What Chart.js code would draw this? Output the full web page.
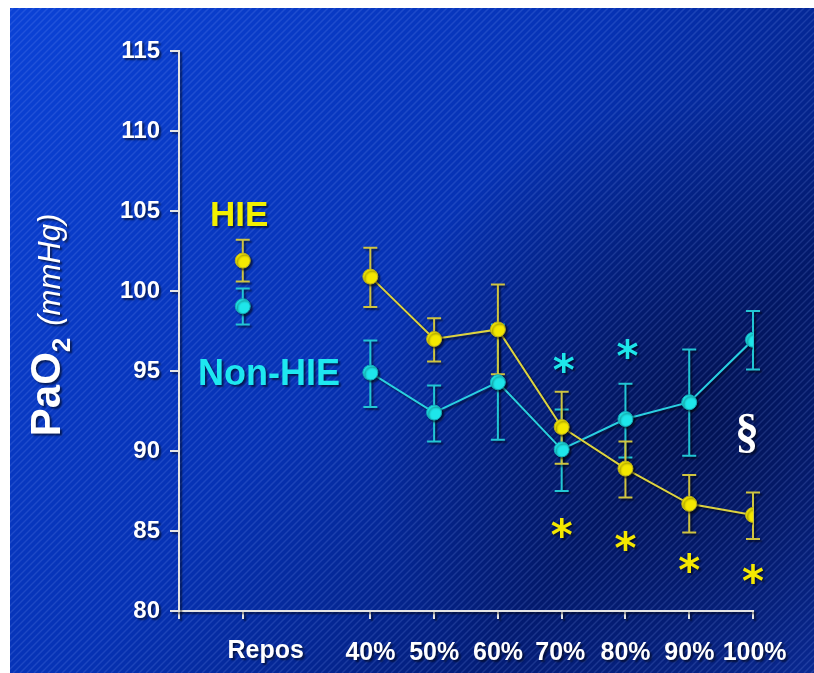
<!DOCTYPE html>
<html>
<head>
<meta charset="utf-8">
<script src="https://cdn.jsdelivr.net/npm/chart.js@4.4.1/dist/chart.umd.min.js"></script>
<style>
  html, body { margin: 0; padding: 0; background: #fff; }
  #wrap { width: 814px; height: 673px; }
</style>
</head>
<body>
<div id="wrap"><canvas id="myChart" width="814" height="673"></canvas></div>
<script>
"use strict";

// categories and where they sit on the x scale (gap between Repos and 40%)
const categories = ['Repos', '40%', '50%', '60%', '70%', '80%', '90%', '100%'];
const xSlots = [1, 3, 4, 5, 6, 7, 8, 9];

// HIE group (mean, lower and upper end of error bar)
const hieMean = [101.9, 100.9, 97.0, 97.6, 91.5, 88.9, 86.7, 86.0];
const hieLow = [100.6, 99.0, 95.6, 94.8, 89.2, 87.1, 84.9, 84.5];
const hieHigh = [103.2, 102.7, 98.3, 100.4, 93.7, 90.6, 88.5, 87.4];

// Non-HIE group
const nonMean = [99.05, 94.9, 92.4, 94.3, 90.1, 92.0, 93.05, 96.95];
const nonLow = [97.9, 92.75, 90.6, 90.7, 87.5, 89.6, 89.7, 95.1];
const nonHigh = [100.15, 96.9, 94.1, 97.9, 92.6, 94.2, 96.35, 98.75];

// y axis
const yMin = 80;
const yMax = 115;
const yStep = 5;

// significance marks
const hieStarAt = ['70%', '80%', '90%', '100%'];
const hieStarY = [85.2, 84.4, 83.0, 82.3];
const nonStarAt = ['70%', '80%'];
const nonStarY = [95.5, 96.4];
const sectionAt = '100%';
const sectionY = 91.1;

const YELLOW = '#f4e800';
const YELLOW_BAR = '#cfc440';
const CYAN = '#1ee6ea';
const CYAN_BAR = '#22c6d4';

function slotOf(label) {
    return xSlots[categories.indexOf(label)];
}

function toPoints(vals) {
    let pts = [];
    for (let i = 0; i < vals.length; i++) {
        pts.push({ x: xSlots[i], y: vals[i] });
    }
    return pts;
}

function setShadow(ctx) {
    ctx.shadowColor = 'rgba(0,0,0,0.55)';
    ctx.shadowOffsetX = 2;
    ctx.shadowOffsetY = 2;
    ctx.shadowBlur = 2;
}

const backdrop = {
    id: 'backdrop',
    beforeDraw(chart) {
        const ctx = chart.ctx;
        const W = chart.width, H = chart.height;
        ctx.save();
        ctx.shadowColor = 'transparent';
        ctx.fillStyle = '#ffffff';
        ctx.fillRect(0, 0, W, H);
        let g = ctx.createLinearGradient(10, 8, W, H);
        g.addColorStop(0, '#0b42d6');
        g.addColorStop(0.45, '#0632b4');
        g.addColorStop(0.75, '#031d78');
        g.addColorStop(1, '#0a2c9c');
        ctx.fillStyle = g;
        ctx.fillRect(10, 8, W - 10, H - 8);
        let r = ctx.createRadialGradient(700, 430, 20, 700, 430, 330);
        r.addColorStop(0, 'rgba(0,8,50,0.5)');
        r.addColorStop(1, 'rgba(0,8,50,0)');
        ctx.fillStyle = r;
        ctx.fillRect(10, 8, W - 10, H - 8);
        ctx.beginPath();
        ctx.rect(10, 8, W - 10, H - 8);
        ctx.clip();
        ctx.strokeStyle = 'rgba(140,170,255,0.17)';
        ctx.lineWidth = 1.5;
        for (let x = -H; x < W; x += 7) {
            ctx.beginPath();
            ctx.moveTo(x, H);
            ctx.lineTo(x + H, 0);
            ctx.stroke();
        }
        ctx.restore();
        setShadow(ctx);
    }
};

function drawBars(ctx, xs, ys, low, high, color) {
    ctx.strokeStyle = color;
    ctx.lineWidth = 2;
    for (let i = 0; i < low.length; i++) {
        const px = xs.getPixelForValue(xSlots[i]);
        const top = ys.getPixelForValue(high[i]);
        const bot = ys.getPixelForValue(low[i]);
        ctx.beginPath();
        ctx.moveTo(px, top);
        ctx.lineTo(px, bot);
        ctx.moveTo(px - 7, top);
        ctx.lineTo(px + 7, top);
        ctx.moveTo(px - 7, bot);
        ctx.lineTo(px + 7, bot);
        ctx.stroke();
    }
}

const errorBars = {
    id: 'errorBars',
    beforeDatasetsDraw(chart) {
        const ctx = chart.ctx;
        const xs = chart.scales.x, ys = chart.scales.y;
        ctx.save();
        drawBars(ctx, xs, ys, nonLow, nonHigh, CYAN_BAR);
        drawBars(ctx, xs, ys, hieLow, hieHigh, YELLOW_BAR);
        ctx.restore();
    }
};

function centeredText(ctx, txt, x, y) {
    const m = ctx.measureText(txt);
    const h = m.actualBoundingBoxAscent + m.actualBoundingBoxDescent;
    ctx.fillText(txt, x - (m.actualBoundingBoxRight - m.actualBoundingBoxLeft) / 2 + m.actualBoundingBoxLeft,
        y + h / 2 - m.actualBoundingBoxDescent);
}

const labels = {
    id: 'labels',
    afterDraw(chart) {
        const ctx = chart.ctx;
        const xs = chart.scales.x, ys = chart.scales.y;
        ctx.save();
        ctx.textAlign = 'left';
        ctx.textBaseline = 'alphabetic';

        // x tick labels
        ctx.fillStyle = '#ffffff';
        ctx.font = 'bold 25px "Liberation Sans", Arial, sans-serif';
        for (let i = 0; i < categories.length; i++) {
            let px = xs.getPixelForValue(xSlots[i]);
            if (categories[i] === 'Repos') px += 24;
            if (categories[i] === '100%') px += 3;
            centeredText(ctx, categories[i], px, 651);
        }

        // group names
        ctx.font = 'bold 35px "Liberation Sans", Arial, sans-serif';
        ctx.fillStyle = '#f2f000';
        centeredText(ctx, 'HIE', 241.5, 213.5);
        ctx.font = 'bold 36px "Liberation Sans", Arial, sans-serif';
        ctx.fillStyle = '#1ee8f0';
        centeredText(ctx, 'Non-HIE', 271.5, 371.5);

        // significance
        ctx.font = 'bold 42px "DejaVu Sans", sans-serif';
        ctx.fillStyle = YELLOW;
        for (let i = 0; i < hieStarAt.length; i++) {
            centeredText(ctx, '*', xs.getPixelForValue(slotOf(hieStarAt[i])), ys.getPixelForValue(hieStarY[i]));
        }
        ctx.fillStyle = CYAN;
        for (let i = 0; i < nonStarAt.length; i++) {
            centeredText(ctx, '*', xs.getPixelForValue(slotOf(nonStarAt[i])) + 2, ys.getPixelForValue(nonStarY[i]));
        }
        ctx.fillStyle = '#ffffff';
        ctx.font = 'bold 48px "Liberation Serif", serif';
        centeredText(ctx, '\u00a7', xs.getPixelForValue(slotOf(sectionAt)) - 3, ys.getPixelForValue(sectionY));

        // y axis title, rotated
        ctx.translate(60, 325);
        ctx.rotate(-Math.PI / 2);
        const f1 = 'bold 42px "Liberation Sans", Arial, sans-serif';
        const f2 = 'bold 26px "Liberation Sans", Arial, sans-serif';
        const f3 = 'italic 31px "Liberation Sans", Arial, sans-serif';
        ctx.font = f1; const w1 = ctx.measureText('PaO').width;
        ctx.font = f2; const w2 = ctx.measureText('2').width;
        ctx.font = f3; const w3 = ctx.measureText('(mmHg)').width;
        const gap = 12;
        let x0 = -(w1 + w2 + gap + w3) / 2;
        ctx.font = f1; ctx.fillText('PaO', x0, 0);
        ctx.font = f2; ctx.fillText('2', x0 + w1, 10);
        ctx.font = f3; ctx.fillText('(mmHg)', x0 + w1 + w2 + gap, 0);
        ctx.restore();
    }
};

const ctx = document.getElementById('myChart').getContext('2d');
const myChart = new Chart(ctx, {
    type: 'line',
    data: {
        datasets: [{
            label: 'HIE',
            data: toPoints(hieMean),
            borderColor: '#ddd340',
            borderWidth: 2,
            pointRadius: 7.5,
            pointBackgroundColor: YELLOW,
            pointBorderColor: '#b8ae20',
            pointBorderWidth: 1,
            segment: {
                borderColor: c => c.p0DataIndex === 0 ? 'rgba(0,0,0,0)' : '#ddd340'
            }
        },
        {
            label: 'Non-HIE',
            data: toPoints(nonMean),
            borderColor: '#2ad0e0',
            borderWidth: 2,
            pointRadius: 7.5,
            pointBackgroundColor: CYAN,
            pointBorderColor: '#14a8b8',
            pointBorderWidth: 1,
            segment: {
                borderColor: c => c.p0DataIndex === 0 ? 'rgba(0,0,0,0)' : '#2ad0e0'
            }
        }]
    },
    options: {
        responsive: false,
        animation: false,
        layout: { padding: { top: 51, right: 61, left: 0, bottom: 0 } },
        plugins: {
            legend: { display: false },
            tooltip: { enabled: false }
        },
        scales: {
            x: {
                type: 'linear',
                min: 0,
                max: 9,
                afterBuildTicks: s => { s.ticks = [0].concat(xSlots).map(v => ({ value: v })); },
                afterFit: s => { s.height = 62; },
                ticks: { display: false },
                grid: { drawOnChartArea: false, color: '#e4e4e4', lineWidth: 2, tickLength: 8 },
                border: { color: '#e4e4e4', width: 2 }
            },
            y: {
                min: yMin,
                max: yMax,
                afterFit: s => { s.width = 179; },
                ticks: {
                    stepSize: yStep,
                    color: '#ffffff',
                    padding: 10,
                    font: { family: '"Liberation Sans", Arial, sans-serif', size: 24, weight: 'bold' }
                },
                grid: { drawOnChartArea: false, color: '#e4e4e4', lineWidth: 2, tickLength: 9 },
                border: { color: '#e4e4e4', width: 2 }
            }
        }
    },
    plugins: [backdrop, errorBars, labels]
});
</script>
</body>
</html>
